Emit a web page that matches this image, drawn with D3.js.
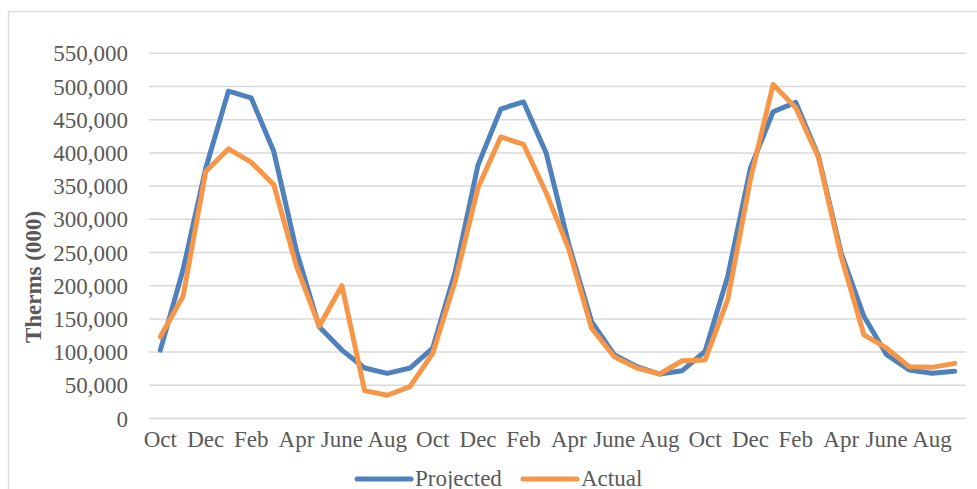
<!DOCTYPE html>
<html>
<head>
<meta charset="utf-8">
<script src="https://cdn.jsdelivr.net/npm/d3@7"></script>
<style>
  html, body { margin: 0; padding: 0; background: #fff; }
  svg { display: block; }
  text { font-family: "Liberation Serif", "Times New Roman", serif; fill: #595959; }
</style>
</head>
<body>
<svg id="chart" width="977" height="489"></svg>
<script>
const months = ["Oct","Nov","Dec","Jan","Feb","Mar","Apr","May","June","Jul","Aug","Sep",
                "Oct","Nov","Dec","Jan","Feb","Mar","Apr","May","June","Jul","Aug","Sep",
                "Oct","Nov","Dec","Jan","Feb","Mar","Apr","May","June","Jul","Aug","Sep"];
const projected = [103000, 224000, 377000, 493000, 483000, 402000, 252000, 138000, 103000, 76000, 68000, 76000,
                   106000, 222000, 382000, 466000, 477000, 400000, 262000, 146000, 96000, 78000, 67000, 72000,
                   101000, 214000, 377000, 462000, 476000, 395000, 249000, 154000, 96000, 73000, 68000, 71000];
const actual =    [123000, 184000, 372000, 406000, 386000, 352000, 229000, 139000, 200000, 42000, 35000, 48000,
                   98000, 208000, 348000, 424000, 413000, 340000, 255000, 136000, 93000, 76000, 67000, 87000,
                   88000, 179000, 360000, 503000, 468000, 393000, 244000, 126000, 106000, 78000, 77000, 83000];
const yTicks = [0, 50000, 100000, 150000, 200000, 250000, 300000, 350000, 400000, 450000, 500000, 550000];
const seriesNames = ["Projected", "Actual"];
const seriesColors = ["#4F81BD", "#F79646"];

const svg = d3.select("#chart");
const plotLeft = 149, plotRight = 966, plotTop = 53.3, plotBottom = 418.5;

// outer chart border
svg.append("rect")
  .attr("x", 8.5).attr("y", 11.5)
  .attr("width", 1000).attr("height", 600)
  .attr("fill", "none").attr("stroke", "#d9d9d9").attr("stroke-width", 1.3);

const x = d3.scaleBand().domain(d3.range(months.length)).range([plotLeft, plotRight]);
const y = d3.scaleLinear().domain([0, 550000]).range([plotBottom, plotTop]);

// gridlines
svg.append("g").selectAll("line").data(yTicks).join("line")
  .attr("x1", plotLeft).attr("x2", plotRight)
  .attr("y1", d => y(d)).attr("y2", d => y(d))
  .attr("stroke", "#d9d9d9").attr("stroke-width", 1.5);

// y axis
const yAxis = svg.append("g")
  .attr("transform", `translate(${plotLeft},0)`)
  .call(d3.axisLeft(y).tickValues(yTicks).tickFormat(d3.format(",")).tickSize(0).tickPadding(21));
yAxis.select(".domain").remove();
yAxis.selectAll("text")
  .style("font-family", '"Liberation Serif", "Times New Roman", serif')
  .style("font-size", "23px").attr("fill", "#595959").attr("dy", "0.33em");

// x axis
const xAxis = svg.append("g")
  .attr("transform", `translate(0,${plotBottom})`)
  .call(d3.axisBottom(x).tickValues(d3.range(0, months.length, 2)).tickFormat(i => months[i]).tickSize(0).tickPadding(12));
xAxis.select(".domain").remove();
xAxis.selectAll("text")
  .style("font-family", '"Liberation Serif", "Times New Roman", serif')
  .style("font-size", "23px").attr("fill", "#595959");

// y title
svg.append("text")
  .attr("transform", "translate(41,277) rotate(-90)")
  .attr("text-anchor", "middle")
  .style("font-size", "23px").style("font-weight", "bold")
  .text("Therms (000)");

// lines
const line = d3.line().x((d, i) => x(i) + x.bandwidth() / 2).y(d => y(d));
[projected, actual].forEach((data, k) => {
  svg.append("path")
    .datum(data)
    .attr("d", line)
    .attr("fill", "none")
    .attr("stroke", seriesColors[k])
    .attr("stroke-width", 5)
    .attr("stroke-linejoin", "round")
    .attr("stroke-linecap", "round");
});

// legend
const legendX = [357, 523];
const lg = svg.append("g");
seriesNames.forEach((name, k) => {
  lg.append("line")
    .attr("x1", legendX[k]).attr("x2", legendX[k] + 54)
    .attr("y1", 479).attr("y2", 479)
    .attr("stroke", seriesColors[k]).attr("stroke-width", 5)
    .attr("stroke-linecap", "round");
  lg.append("text")
    .attr("x", legendX[k] + 58).attr("y", 486)
    .style("font-size", "23px")
    .text(name);
});
</script>
</body>
</html>
